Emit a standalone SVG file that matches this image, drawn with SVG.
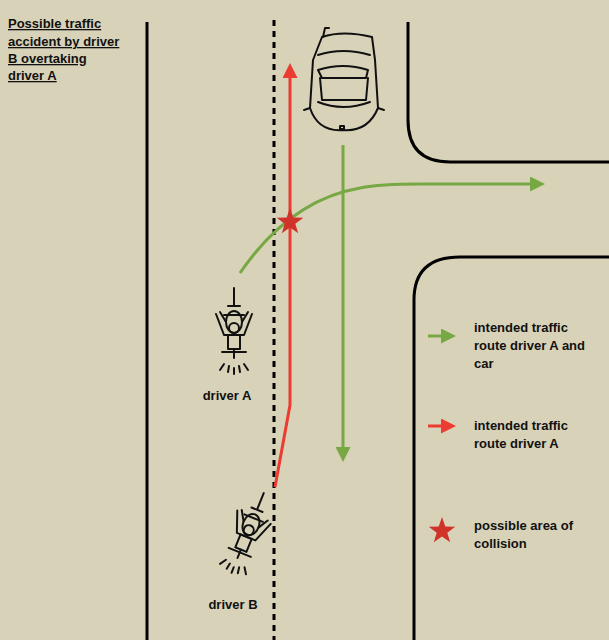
<svg xmlns="http://www.w3.org/2000/svg" width="609" height="640" viewBox="0 0 609 640">
<style>
.t{font-family:"Liberation Sans",Arial,sans-serif;font-size:13px;font-weight:bold;fill:#111}
.road{stroke:#000;stroke-width:3;fill:none}
.sk{stroke:#111;stroke-width:2;fill:none;stroke-linejoin:round;stroke-linecap:round}
.g{stroke:#77a843;stroke-width:3;fill:none}
.r{stroke:#ec3b30;stroke-width:3;fill:none}
</style>
<defs>
<marker id="ag" markerWidth="5" markerHeight="5" refX="1" refY="2.5" orient="auto" markerUnits="strokeWidth"><path d="M0,0 L5,2.5 L0,5 Z" fill="#77a843"/></marker>
<marker id="ar" markerWidth="5" markerHeight="5" refX="1" refY="2.5" orient="auto" markerUnits="strokeWidth"><path d="M0,0 L5,2.5 L0,5 Z" fill="#ec3b30"/></marker>
<g id="moto">
<path class="sk" d="M0,-42 L0,-25 M-6,-24 L6,-24 M-10,-15 L10,-15"/>
<path class="sk" d="M-14,-18 L-8,-8 M14,-18 L8,-8 M-18,-16 L-10,5 L10,5 L18,-16"/>
<ellipse class="sk" cx="0" cy="-8" rx="8" ry="11"/>
<circle class="sk" cx="0" cy="-2" r="5"/>
<rect class="sk" x="-6" y="5" width="12" height="14"/>
<path class="sk" d="M-12,22 L12,22 M0,19 L0,28"/>
<path class="sk" d="M-14,40 L-10,34 M-6,42 L-5,36 M0,44 L0,38 M6,42 L5,36 M14,40 L10,34"/>
</g>
</defs>
<rect width="609" height="640" fill="#d8d3b8"/>
<g id="title">
<text class="t" x="8" y="28" text-decoration="underline">Possible traffic</text>
<text class="t" x="8" y="46" text-decoration="underline">accident by driver</text>
<text class="t" x="8" y="63" text-decoration="underline">B overtaking</text>
<text class="t" x="8" y="80" text-decoration="underline">driver A</text>
</g>
<g id="road">
<line class="road" x1="147" y1="22" x2="147" y2="640"/>
<line x1="274" y1="20" x2="274" y2="640" stroke="#000" stroke-width="3" stroke-dasharray="6,5"/>
<path class="road" d="M408,22 L408,120 Q408,162 450,162 L609,162"/>
<path class="road" d="M609,257 L460,257 Q414,257 414,300 L414,640"/>
</g>
<g id="car">
<path class="sk" d="M322,37 Q343,30 372,37 L375,60 L378,108 Q368,132 343,130 Q318,132 310,108 L313,60 Z"/>
<path class="sk" d="M318,55 Q343,47 370,55 M318,70 Q343,62 368,70 L366,78 L322,78 Z M320,78 L322,100 L366,100 L368,78 M318,102 Q343,112 370,102"/>
<path class="sk" d="M323,37 L325,28 L329,28 M310,108 L304,110 M378,108 L384,110"/>
<rect class="sk" x="340" y="126" width="4" height="3"/>
</g>
<g id="driverA"><use href="#moto" transform="translate(234,330)"/>
<text class="t" x="227" y="400" text-anchor="middle">driver A</text></g>
<g id="driverB"><use href="#moto" transform="translate(248,532) rotate(22)"/>
<text class="t" x="233" y="609" text-anchor="middle">driver B</text></g>
<g id="connectors">
<path class="r" d="M275,487 L290,405 L290,75" marker-end="url(#ar)"/>
<path class="g" d="M343,145 L343,450" marker-end="url(#ag)"/>
<path class="g" d="M240,273 Q290,200 360,188 Q380,184 420,184 L533,184" marker-end="url(#ag)"/>
<polygon fill="#d0332a" transform="translate(290,222)" points="0,-14 3.3,-4.5 13.3,-4.3 5.3,1.7 8.2,11.3 0,5.6 -8.2,11.3 -5.3,1.7 -13.3,-4.3 -3.3,-4.5"/>
</g>
<g id="legend">
<line class="g" x1="428" y1="336" x2="444" y2="336" marker-end="url(#ag)"/>
<text class="t" x="474" y="332">intended traffic</text>
<text class="t" x="474" y="350">route driver A and</text>
<text class="t" x="474" y="368">car</text>
<line class="r" x1="428" y1="426" x2="444" y2="426" marker-end="url(#ar)"/>
<text class="t" x="474" y="430">intended traffic</text>
<text class="t" x="474" y="448">route driver A</text>
<polygon fill="#d0332a" transform="translate(442,531)" points="0,-14 3.3,-4.5 13.3,-4.3 5.3,1.7 8.2,11.3 0,5.6 -8.2,11.3 -5.3,1.7 -13.3,-4.3 -3.3,-4.5"/>
<text class="t" x="474" y="530">possible area of</text>
<text class="t" x="474" y="548">collision</text>
</g>
</svg>
